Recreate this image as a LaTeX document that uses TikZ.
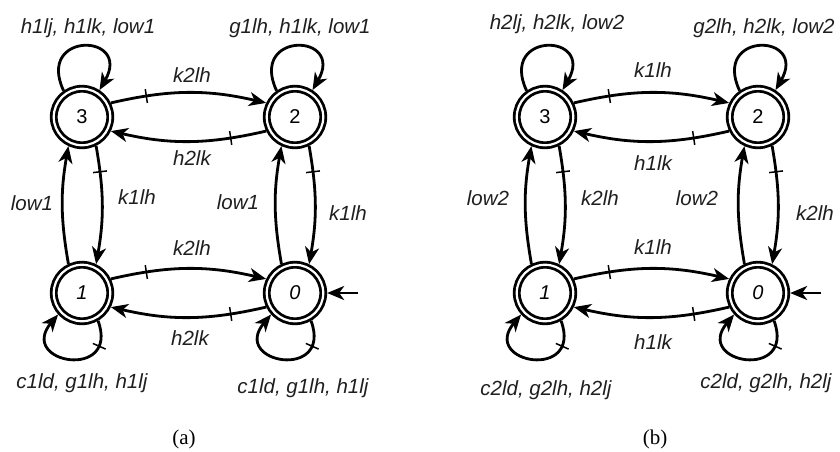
\documentclass[tikz,border=0pt]{standalone}
\usepackage{fontspec}
\setmainfont{Liberation Sans}
\newfontfamily\capfont{Liberation Serif}
\usetikzlibrary{arrows.meta,decorations.markings}
\tikzset{
  st/.style={circle,draw,double,double distance=2.2pt,line width=2.8pt,minimum size=56.5pt,inner sep=0pt,outer sep=3.9pt,font=\fontsize{20}{24}\selectfont},
  sti/.style={st,font=\itshape\fontsize{20}{24}\selectfont},
  edge/.style={line width=2.8pt,-{Stealth[length=17pt,width=14pt,inset=5pt]}},
  tickmark/.style={postaction={decorate},decoration={markings,mark=at position #1 with {\draw[line width=1.5pt,-] (0,-7pt)--(0,7pt);}}},
  lbl/.style={font=\itshape\fontsize{20.5}{24}\selectfont,inner sep=0pt,text=black!88},
  captxt/.style={font=\capfont\fontsize{21}{24}\selectfont,inner sep=0pt}
}
\begin{document}
\begin{tikzpicture}[x=1pt,y=1pt]
\useasboundingbox[fill=white] (0,0) rectangle (840,-452);
% ---------- panel (a)
\node[st]  (a3) at (82,-117) {3};
\node[st]  (a2) at (295,-117) {2};
\node[sti] (a1) at (82,-293) {1};
\node[sti] (a0) at (295,-293) {0};
\draw[edge,tickmark=0.23] (a3.26) to[out=13,in=167] (a2.154);
\draw[edge,tickmark=0.23] (a2.206) to[out=193,in=-13] (a3.-26);
\draw[edge,tickmark=0.22] (a3.-64) to[out=-80,in=80] (a1.64);
\draw[edge] (a1.115) to[out=100,in=-100] (a3.-115);
\draw[edge,tickmark=0.22] (a2.-64) to[out=-80,in=80] (a0.64);
\draw[edge] (a0.115) to[out=100,in=-100] (a2.-115);
\draw[edge,tickmark=0.23] (a1.26) to[out=13,in=167] (a0.154);
\draw[edge,tickmark=0.23] (a0.206) to[out=193,in=-13] (a1.-26);
\draw[edge] (a3.125) to[out=115,in=60,distance=66pt] (a3.57);
\draw[edge] (a2.125) to[out=115,in=60,distance=66pt] (a2.57);
\draw[edge,tickmark=0.22] (a1.-60) to[out=-70,in=-130,distance=64pt] (a1.-138);
\draw[edge,tickmark=0.22] (a0.-60) to[out=-70,in=-130,distance=64pt] (a0.-138);
\coordinate (a0i) at (358,-293);
\draw[edge] (a0i) -- (a0.east);
\node[lbl] (la1) at (88,-28) {h1lj, h1lk, low1};
\node[lbl] (la2) at (300,-28) {g1lh, h1lk, low1};
\node[lbl] (la3) at (192,-75) {k2lh};
\node[lbl] (la4) at (192,-158) {h2lk};
\node[lbl] (la5) at (32,-203) {low1};
\node[lbl] (la6) at (137,-197) {k1lh};
\node[lbl] (la7) at (238,-202) {low1};
\node[lbl] (la8) at (348,-213) {k1lh};
\node[lbl] (la9) at (192,-248) {k2lh};
\node[lbl] (la10) at (190,-338) {h2lk};
\node[lbl] (la11) at (82,-383) {c1ld, g1lh, h1lj};
\node[lbl] (la12) at (303,-388) {c1ld, g1lh, h1lj};
\node[captxt] (capa) at (184,-439) {(a)};
% ---------- panel (b)
\node[st]  (b3) at (545,-117) {3};
\node[st]  (b2) at (758,-117) {2};
\node[sti] (b1) at (545,-293) {1};
\node[sti] (b0) at (758,-293) {0};
\draw[edge,tickmark=0.23] (b3.26) to[out=13,in=167] (b2.154);
\draw[edge,tickmark=0.23] (b2.206) to[out=193,in=-13] (b3.-26);
\draw[edge,tickmark=0.22] (b3.-64) to[out=-80,in=80] (b1.64);
\draw[edge] (b1.115) to[out=100,in=-100] (b3.-115);
\draw[edge,tickmark=0.22] (b2.-64) to[out=-80,in=80] (b0.64);
\draw[edge] (b0.115) to[out=100,in=-100] (b2.-115);
\draw[edge,tickmark=0.23] (b1.26) to[out=13,in=167] (b0.154);
\draw[edge,tickmark=0.23] (b0.206) to[out=193,in=-13] (b1.-26);
\draw[edge] (b3.125) to[out=115,in=60,distance=66pt] (b3.57);
\draw[edge] (b2.125) to[out=115,in=60,distance=66pt] (b2.57);
\draw[edge,tickmark=0.22] (b1.-60) to[out=-70,in=-130,distance=64pt] (b1.-138);
\draw[edge,tickmark=0.22] (b0.-60) to[out=-70,in=-130,distance=64pt] (b0.-138);
\coordinate (b0i) at (821,-293);
\draw[edge] (b0i) -- (b0.east);
\node[lbl] (lb1) at (557,-24) {h2lj, h2lk, low2};
\node[lbl] (lb2) at (764,-28) {g2lh, h2lk, low2};
\node[lbl] (lb3) at (653,-70) {k1lh};
\node[lbl] (lb4) at (653,-163) {h1lk};
\node[lbl] (lb5) at (488,-198) {low2};
\node[lbl] (lb6) at (600,-198) {k2lh};
\node[lbl] (lb7) at (697,-198) {low2};
\node[lbl] (lb8) at (815,-213) {k2lh};
\node[lbl] (lb9) at (653,-247) {k1lh};
\node[lbl] (lb10) at (653,-342) {h1lk};
\node[lbl] (lb11) at (546,-390) {c2ld, g2lh, h2lj};
\node[lbl] (lb12) at (766,-383) {c2ld, g2lh, h2lj};
\node[captxt] (capb) at (655,-439) {(b)};
\end{tikzpicture}
\end{document}
